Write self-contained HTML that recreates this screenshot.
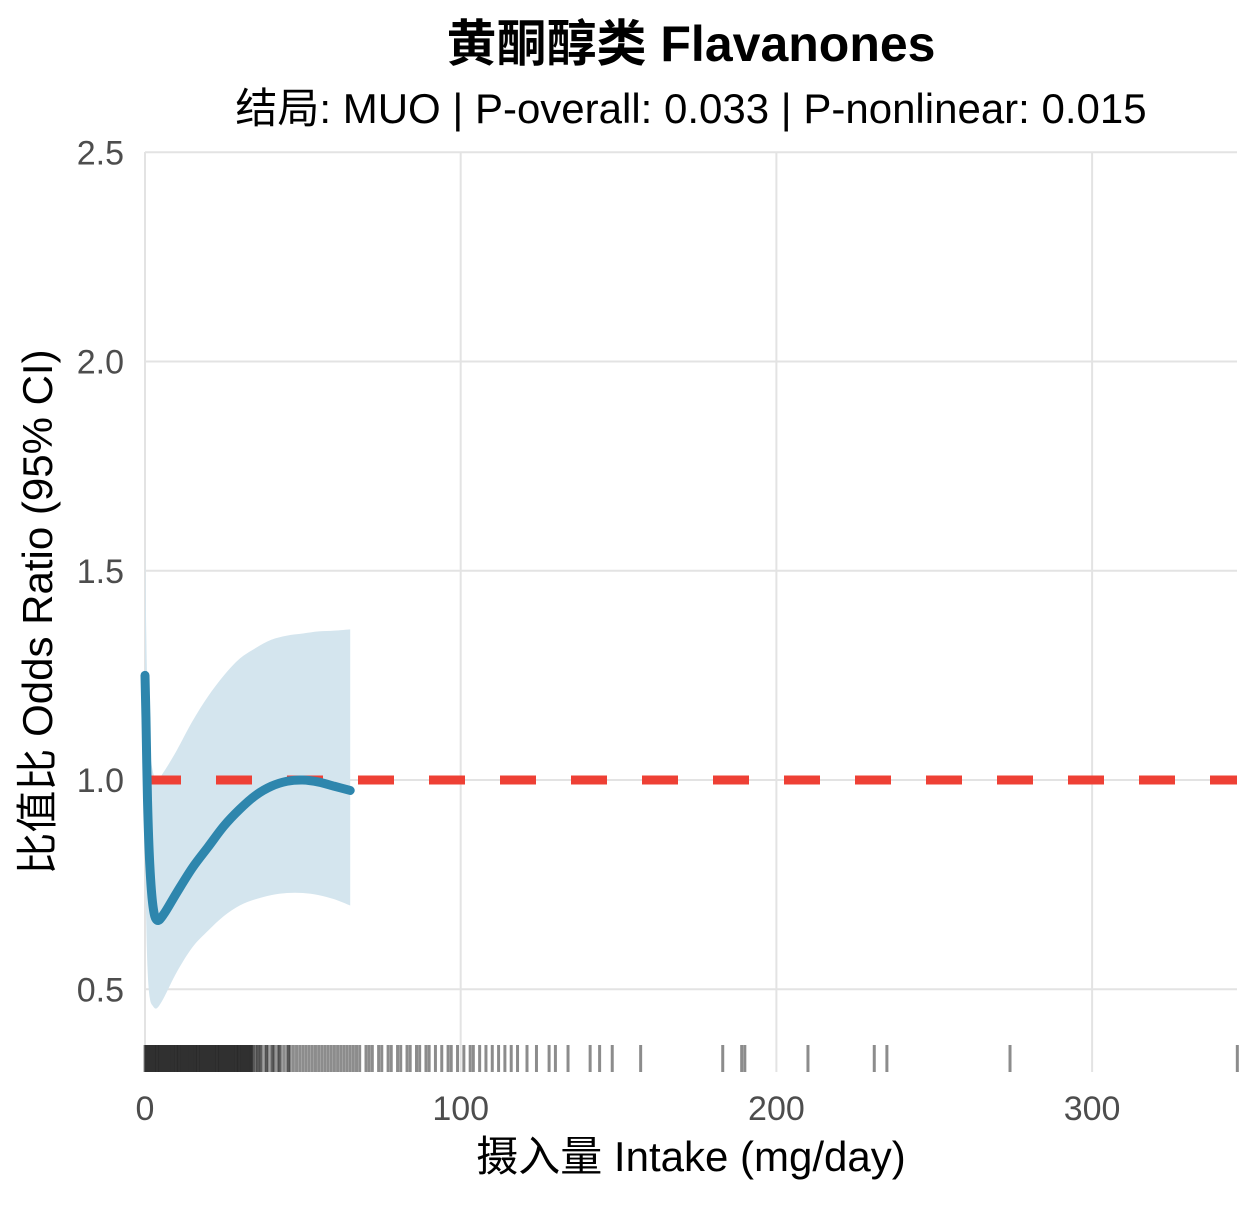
<!DOCTYPE html>
<html><head><meta charset="utf-8"><style>
body{margin:0;background:#fff;}
text{font-family:"Liberation Sans","Noto Sans CJK SC",sans-serif;}
</style></head><body>
<svg id="c" width="1260" height="1200" xmlns="http://www.w3.org/2000/svg">
<text x="691" y="61" text-anchor="middle" font-size="50" font-weight="bold" fill="#000">黄酮醇类 Flavanones</text>
<text x="691" y="123" text-anchor="middle" font-size="42" fill="#000">结局: MUO | P-overall: 0.033 | P-nonlinear: 0.015</text>
<text transform="translate(52,612) rotate(-90)" text-anchor="middle" font-size="42" fill="#000">比值比 Odds Ratio (95% CI)</text>
<text x="691" y="1171" text-anchor="middle" font-size="42" fill="#000">摄入量 Intake (mg/day)</text>
<g id="grid"></g><g id="marks"></g><g id="ticks"></g>
</svg>
<script>
const xTicks=[0,100,200,300];
const yTicks=[0.5,1.0,1.5,2.0,2.5];
const yTickLabels=["0.5","1.0","1.5","2.0","2.5"];
const xs=[0,0.3,0.8,1.5,2.5,3.8,6,10,15,20,25,30,35,40,45,50,55,60,65];
const orVals=[1.25,1.15,0.95,0.80,0.70,0.665,0.68,0.73,0.79,0.84,0.89,0.93,0.963,0.985,0.997,1.0,0.995,0.985,0.975];
const upperVals=[1.57,1.40,1.2,1.08,1.02,1.0,1.02,1.07,1.14,1.20,1.25,1.29,1.315,1.335,1.345,1.35,1.355,1.357,1.36];
const lowerVals=[0.9,0.7,0.55,0.48,0.46,0.455,0.48,0.54,0.6,0.64,0.675,0.70,0.715,0.725,0.73,0.73,0.725,0.715,0.70];
const rugVals=[0,0.3,0.6,1,1.3,1.6,2,2.3,2.6,3,3.3,3.6,4,4.3,4.6,5,5.3,5.6,6,6.3,6.6,7,7.3,7.6,8,8.3,8.6,9,9.3,9.6,10,10.3,10.6,11,11.3,11.6,12,12.3,12.6,13,13.3,13.6,14,14.3,14.6,15,15.3,15.6,16,16.3,16.6,17,17.3,17.6,18,18.3,18.6,19,19.3,19.6,20,20.3,20.6,21,21.3,21.6,22,22.3,22.6,23,23.3,23.6,24,24.3,24.6,25,25.3,25.6,26,26.3,26.6,27,27.3,27.6,28,28.3,28.6,29,29.3,29.6,30,30.3,30.6,31,31.3,31.6,32,32.3,32.6,33,33.3,33.6,34,34.3,35,35.5,36,36.5,37,38,38.5,39,40,40.5,41,42,42.5,43,44,45,45.5,46,47,48,49,50,51,52,53,54,55,56,57,58,59,60,61,62,63,64,65,66,67,68,70,71,72,74,75,77,78,80,81,83,84,86,87,89,90,92,94,96,97,99,101,103,104,106,108,110,112,114,116,118,121,124,128,130,134,141,144,148,157,183,189,190,210,231,235,274,346];
const X=v=>145+v*3.157, Y=v=>780-(v-1)*418.5;
const ns="http://www.w3.org/2000/svg";
function mk(t,a,p){const e=document.createElementNS(ns,t);for(const k in a)e.setAttribute(k,a[k]);p.appendChild(e);return e;}
function smooth(pts){let d='M'+pts[0][0]+','+pts[0][1];for(let i=0;i<pts.length-1;i++){const p0=pts[Math.max(0,i-1)],p1=pts[i],p2=pts[i+1],p3=pts[Math.min(pts.length-1,i+2)];
d+='C'+(p1[0]+(p2[0]-p0[0])/6)+','+(p1[1]+(p2[1]-p0[1])/6)+' '+(p2[0]-(p3[0]-p1[0])/6)+','+(p2[1]-(p3[1]-p1[1])/6)+' '+p2[0]+','+p2[1];}return d;}
const grid=document.getElementById('grid'),marks=document.getElementById('marks'),ticks=document.getElementById('ticks');
xTicks.forEach(t=>{const l=mk('line',{x1:X(t),x2:X(t),y1:152,y2:1072,stroke:'#e3e3e3','stroke-width':2},grid);


const tx=mk('text',{x:X(t),y:1120,'text-anchor':'middle','font-size':34,fill:'#4d4d4d'},ticks);tx.textContent=t;

});
yTicks.forEach((t,i)=>{const l=mk('line',{x1:145,x2:1237,y1:Y(t),y2:Y(t),stroke:'#e3e3e3','stroke-width':2},grid);


const tx=mk('text',{x:124,y:Y(t)+12,'text-anchor':'end','font-size':34,fill:'#4d4d4d'},ticks);tx.textContent=yTickLabels[i];

});
const up=xs.map((x,i)=>[X(x),Y(upperVals[i])]);
const lo=xs.map((x,i)=>[X(x),Y(lowerVals[i])]).reverse();
const band=mk('path',{d:smooth(up)+'L'+smooth(lo).slice(1)+'Z',fill:'#d4e5ee'},marks);


rugVals.forEach(v=>{const r=mk('line',{x1:X(v),x2:X(v),y1:1045,y2:1072,stroke:'#000','stroke-width':3,'stroke-opacity':0.45},marks);

});
const ref=mk('line',{x1:145,x2:1237,y1:Y(1),y2:Y(1),stroke:'#ee4035','stroke-width':9,'stroke-dasharray':'36,35'},marks);


const ln=mk('path',{d:smooth(xs.map((x,i)=>[X(x),Y(orVals[i])])),fill:'none',stroke:'#2e86ad','stroke-width':9,'stroke-linejoin':'round','stroke-linecap':'round'},marks);


</script>
</body></html>
